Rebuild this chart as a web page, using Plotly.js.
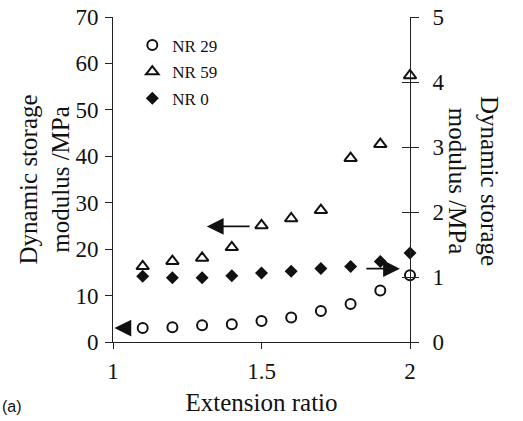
<!DOCTYPE html>
<html>
<head>
<meta charset="utf-8">
<script src="https://cdn.plot.ly/plotly-3.0.1.min.js"></script>
<style>html,body{margin:0;padding:0;background:#fff;}#chart{width:523px;height:421px;}</style>
</head>
<body>
<div id="chart"></div>
<script>
// Extension ratio (x)
const extensionRatio = [1.1, 1.2, 1.3, 1.4, 1.5, 1.6, 1.7, 1.8, 1.9, 2.0];
// NR 29 – left axis (MPa)
const nr29 = [3.0, 3.2, 3.6, 3.8, 4.5, 5.3, 6.7, 8.2, 11.1, 14.4];
// NR 59 – left axis (MPa)
const nr59 = [16.3, 17.4, 18.1, 20.4, 25.1, 26.6, 28.4, 39.6, 42.6, 57.4];
// NR 0 – right axis (MPa)
const nr0 = [1.01, 0.99, 0.99, 1.02, 1.06, 1.09, 1.13, 1.16, 1.24, 1.37];

const seriesNames = ['NR 29', 'NR 59', 'NR 0'];
const xTicks = [1, 1.5, 2];
const xTickText = ['1', '1.5', '2'];
const leftTicks = [0, 10, 20, 30, 40, 50, 60, 70];
const rightTicks = [0, 1, 2, 3, 4, 5];
const yTitle = 'Dynamic storage<br>modulus /MPa';
const xTitle = 'Extension ratio';
const panelLabel = '(a)';

const serif = '"Liberation Serif", "Times New Roman", Times, serif';
const ink = '#111';

const traces = [
  {x: extensionRatio, y: nr29, name: seriesNames[0], type: 'scatter', mode: 'markers',
   legendgroup: 'a', cliponaxis: false,
   marker: {symbol: 'circle-open', size: 10, color: ink, line: {width: 2, color: ink}}},
  {x: extensionRatio, y: nr59, name: seriesNames[1], type: 'scatter', mode: 'markers',
   legendgroup: 'b', cliponaxis: false,
   marker: {symbol: 'triangle-up-open', size: 11, color: ink, line: {width: 2, color: ink}}},
  {x: extensionRatio, y: nr0, name: seriesNames[2], type: 'scatter', mode: 'markers',
   legendgroup: 'c', cliponaxis: false, yaxis: 'y2',
   marker: {symbol: 'diamond', size: 10, color: ink, line: {width: 0}}},
  // empty helper trace so the inner half of the right-axis cross ticks is drawn
  {x: [], y: [], yaxis: 'y3', type: 'scatter', mode: 'markers', showlegend: false, hoverinfo: 'skip'}
];

const axCommon = {
  showgrid: false, zeroline: false, showline: true, linecolor: '#222', linewidth: 1,
  ticks: 'outside', tickcolor: '#222', tickwidth: 1,
  tickfont: {family: serif, size: 23, color: ink}
};

const arrowCommon = {text: '', showarrow: true, xref: 'x', yref: 'y', axref: 'x', ayref: 'y',
  arrowhead: 2, arrowsize: 2.1, arrowwidth: 1.6, arrowcolor: ink};

const layout = {
  width: 523, height: 421,
  margin: {l: 113, r: 113, t: 17, b: 79, pad: 0},
  paper_bgcolor: '#fff', plot_bgcolor: '#fff',
  font: {family: serif, color: ink},
  showlegend: true,
  legend: {x: 0.065, y: 0.968, xanchor: 'left', yanchor: 'top', bgcolor: 'rgba(0,0,0,0)',
    font: {family: serif, size: 17, color: ink}, tracegroupgap: 1.5, itemwidth: 30},
  xaxis: Object.assign({}, axCommon, {range: [1, 2], tickvals: xTicks, ticktext: xTickText,
    ticklen: 6, ticklabelstandoff: 2,
    title: {text: xTitle, font: {family: serif, size: 25, color: ink}, standoff: 10}}),
  yaxis: Object.assign({}, axCommon, {range: [0, 70], tickvals: leftTicks, ticklen: 7,
    ticklabelstandoff: 2}),
  yaxis2: Object.assign({}, axCommon, {range: [0, 5], tickvals: rightTicks, ticklen: 8,
    overlaying: 'y', side: 'right', ticklabelstandoff: 9}),
  yaxis3: Object.assign({}, axCommon, {range: [0, 5], tickvals: rightTicks, ticklen: 8,
    overlaying: 'y', side: 'right', ticks: 'inside', showticklabels: false, showline: false}),
  annotations: [
    {text: yTitle, textangle: -90, xref: 'paper', yref: 'paper', x: (44 - 113) / 297, y: 0.5,
     xanchor: 'center', yanchor: 'middle', showarrow: false, font: {family: serif, size: 25, color: ink}},
    {text: yTitle, textangle: 90, xref: 'paper', yref: 'paper', x: (473 - 113) / 297, y: (342 - 181) / 325,
     xanchor: 'center', yanchor: 'middle', showarrow: false, font: {family: serif, size: 25, color: ink}},
    {text: panelLabel, xref: 'paper', yref: 'paper', x: (0 - 113) / 297, y: (342 - 406) / 325,
     xanchor: 'left', yanchor: 'middle', showarrow: false, font: {family: '"Liberation Sans", Arial, sans-serif', size: 16, color: ink}},
    Object.assign({}, arrowCommon, {x: 1.005, y: 3.0, ax: 1.065, ay: 3.0}),
    Object.assign({}, arrowCommon, {x: 1.316, y: 24.9, ax: 1.465, ay: 24.9}),
    Object.assign({}, arrowCommon, {x: 1.966, y: 15.8, ax: 1.848, ay: 15.8})
  ]
};

Plotly.newPlot('chart', traces, layout, {staticPlot: true, displayModeBar: false});
</script>
</body>
</html>
